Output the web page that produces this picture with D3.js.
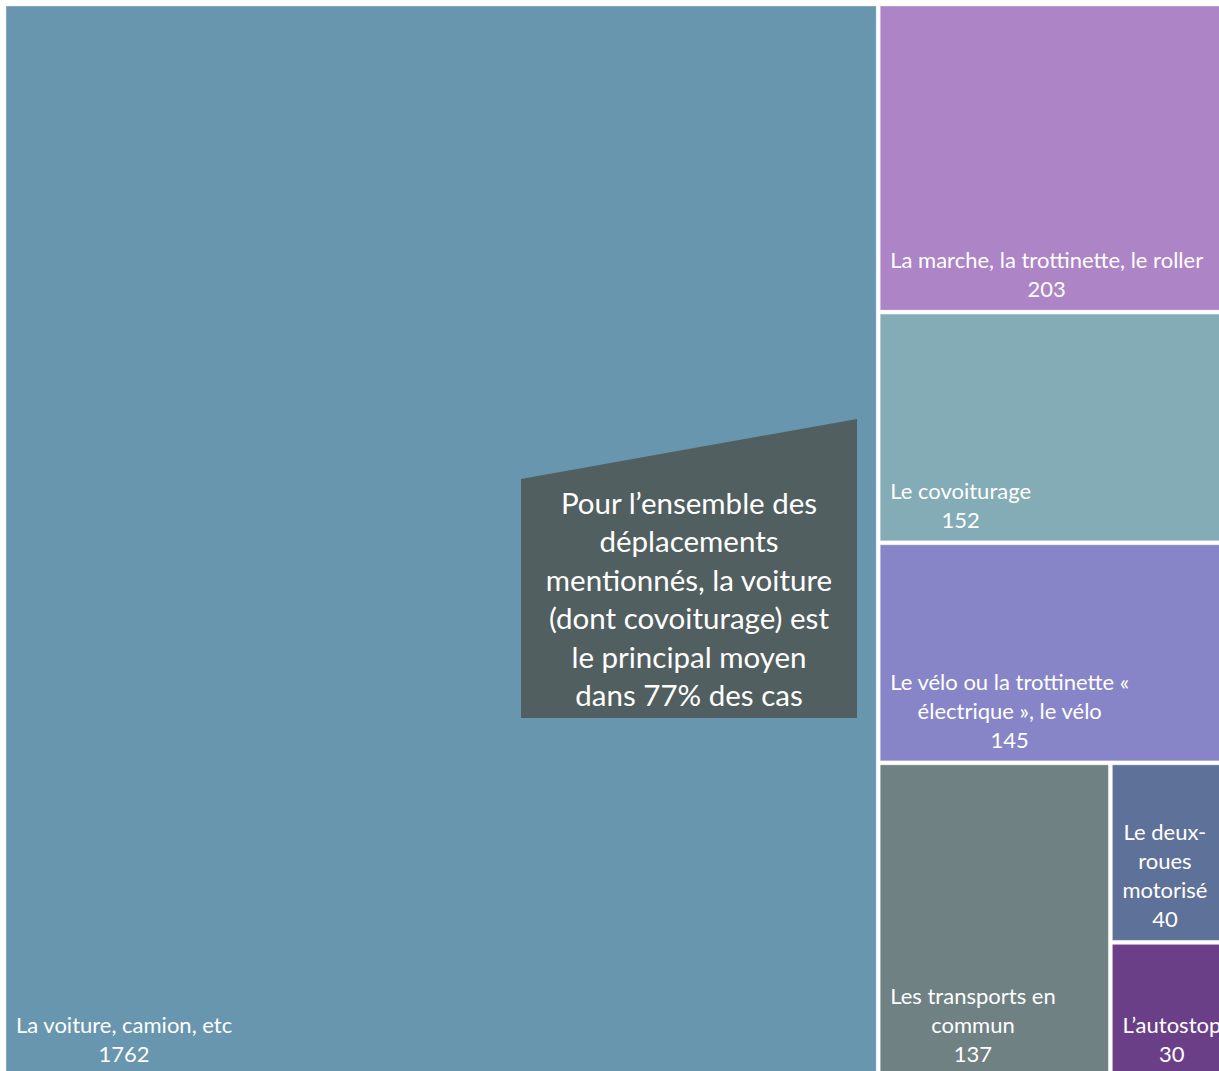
<!DOCTYPE html>
<html>
<head>
<meta charset="utf-8">
<script src="https://cdn.jsdelivr.net/npm/d3@7.9.0/dist/d3.min.js"></script>
<style>
  body { margin: 0; background: #fff; overflow: hidden; }
  svg { display: block; }
  .lbl { font-family: Lato, "Open Sans", sans-serif; fill: #fff; }
</style>
</head>
<body>
<div id="chart"></div>
<script>
// data
const categories = [
    "La voiture, camion, etc",
    "La marche, la trottinette, le roller",
    "Le covoiturage",
    "Le vélo ou la trottinette «\nélectrique », le vélo",
    "Les transports en\ncommun",
    "Le deux-\nroues\nmotorisé",
    "L’autostop"
];
const values = [1762, 203, 152, 145, 137, 40, 30];
const colors = ["#6896AE", "#AD84C6", "#84ACB6", "#8785C7", "#6F8183", "#5E7198", "#6A3F88"];

const noteLines = [
    "Pour l’ensemble des",
    "déplacements",
    "mentionnés, la voiture",
    "(dont covoiturage) est",
    "le principal moyen",
    "dans 77% des cas"
];

const width = 1219, height = 1071;
const margin = { top: 6, left: 6 };

const svg = d3.select("#chart").append("svg")
    .attr("width", width)
    .attr("height", height);

const g = svg.append("g")
    .attr("transform", `translate(${margin.left},${margin.top})`);

const root = d3.hierarchy({
        children: categories.map((c, i) => ({ name: c, value: values[i], color: colors[i] }))
    })
    .sum(d => d.value || 0)
    .sort((a, b) => b.value - a.value);

d3.treemap()
    .size([1221, 1069]) // runs a bit past the right/bottom edge, like the original crop
    .paddingInner(4)
    .tile(d3.treemapSquarify.ratio(1))(root);

const cell = g.selectAll("g.cell")
    .data(root.leaves())
    .enter().append("g")
    .attr("class", "cell");

cell.append("rect")
    .attr("x", d => d.x0)
    .attr("y", d => d.y0)
    .attr("width", d => d.x1 - d.x0)
    .attr("height", d => d.y1 - d.y0)
    .style("fill", d => d.data.color)
    .style("stroke", "rgba(255,255,255,0.35)")
    .style("stroke-width", 1);

// labels: bottom-left block, lines centred within the block
const lineH = 29;
cell.each(function(d) {
    const lines = d.data.name.split("\n").concat([String(d.data.value)]);
    const sel = d3.select(this);
    const texts = lines.map((t, i) => sel.append("text")
        .attr("class", "lbl")
        .attr("y", d.y1 - 13 - (lines.length - 1 - i) * lineH)
        .attr("text-anchor", "middle")
        .style("font-size", "22px")
        .text(t));
    const blockW = d3.max(texts, t => t.node().getComputedTextLength());
    texts.forEach(t => t.attr("x", d.x0 + 10 + blockW / 2));
});

// callout box over the big cell
const note = svg.append("g").attr("class", "note");
note.append("path")
    .attr("d", "M521,479 L857,419 L857,718 L521,718 Z")
    .style("fill", "#525F60");

note.selectAll("text")
    .data(noteLines)
    .enter().append("text")
    .attr("class", "lbl")
    .attr("x", 689)
    .attr("y", (d, i) => 504 + i * 38.4 + 10)
    .attr("text-anchor", "middle")
    .style("font-size", "29.5px")
    .text(d => d);
</script>
</body>
</html>
